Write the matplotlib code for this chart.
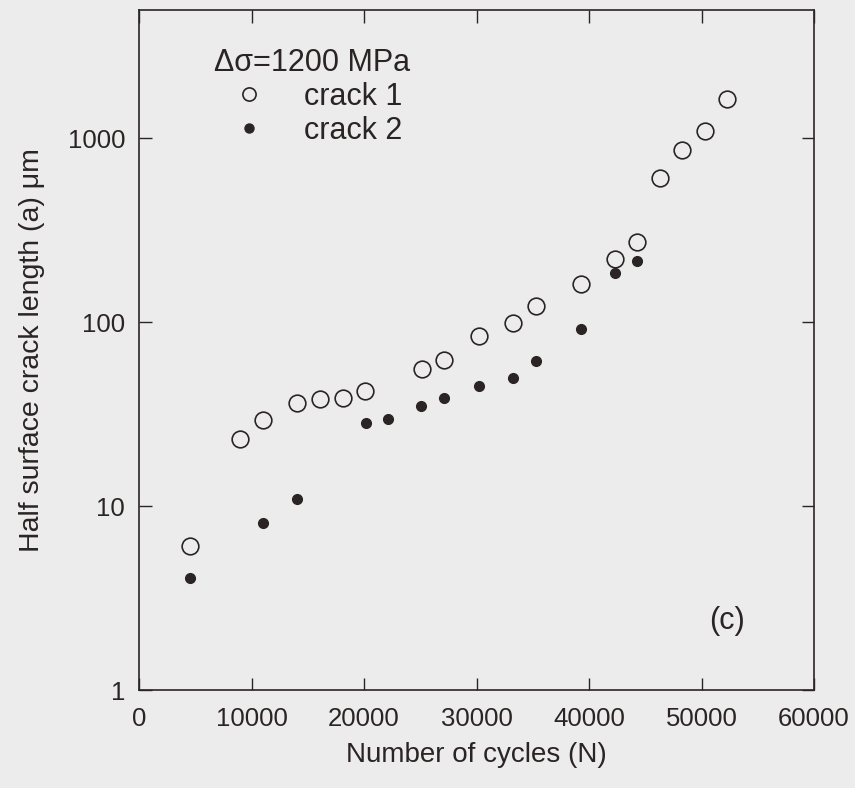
import numpy as np
import matplotlib
matplotlib.use("Agg")
import matplotlib.pyplot as plt
from matplotlib.ticker import FixedLocator, FuncFormatter

# crack 1 (open circles)
n_crack1 = [4500, 9000, 11000, 14050, 16050, 18100, 20100, 25150, 27150, 30250,
            33250, 35250, 39300, 42300, 44300, 46300, 48300, 50300, 52300]
a_crack1 = [6.1, 23.3, 29.4, 36.5, 38.3, 39.0, 42.2, 55.7, 62.4, 83.9,
            99.1, 122, 161, 222, 275, 608, 871, 1105, 1636]

# crack 2 (filled dots)
n_crack2 = [4500, 11050, 14050, 20150, 22100, 25100, 27150, 30250, 33250,
            35250, 39250, 42300, 44300]
a_crack2 = [4.06, 8.05, 11.0, 28.4, 29.8, 34.9, 39.0, 45.1, 49.8,
            61.4, 91.6, 186, 216]

x_ticks = [0, 10000, 20000, 30000, 40000, 50000, 60000]
y_ticks = [1, 10, 100, 1000]

ink = "#2b2424"
bg = "#ececec"

plt.rcParams['font.family'] = ['Liberation Sans', 'DejaVu Sans']
plt.rcParams['text.color'] = ink
plt.rcParams['axes.labelcolor'] = ink
plt.rcParams['xtick.color'] = ink
plt.rcParams['ytick.color'] = ink

fig = plt.figure(figsize=(8.55, 7.88), dpi=100, facecolor=bg)
ax = fig.add_axes([139 / 855, 98 / 788, 675 / 855, 680 / 788])
ax.set_facecolor(bg)

ax.plot(n_crack1, a_crack1, linestyle='none', marker='o', markersize=12,
        markerfacecolor='none', markeredgecolor=ink, markeredgewidth=1.2,
        label='crack 1')
ax.plot(n_crack2, a_crack2, linestyle='none', marker='o', markersize=7,
        markerfacecolor=ink, markeredgecolor=ink, label='crack 2')

ax.set_yscale('log')
ax.set_xlim(0, 60000)
ax.set_ylim(1, 5000)
ax.xaxis.set_major_locator(FixedLocator(x_ticks))
ax.yaxis.set_major_locator(FixedLocator(y_ticks))
ax.yaxis.set_minor_locator(FixedLocator([]))
ax.yaxis.set_major_formatter(FuncFormatter(lambda v, p: '%d' % v))
ax.tick_params(axis='both', which='major', direction='in', length=9, width=1,
               top=True, right=True, labelsize=18.5)
ax.tick_params(axis='x', pad=12)
ax.tick_params(axis='y', pad=10)

for s in ax.spines.values():
    s.set_color(ink)
    s.set_linewidth(1.2)

ax.set_xlabel('Number of cycles (N)', fontsize=20, labelpad=8)
ax.set_ylabel('Half surface crack length (a) \u03bcm', fontsize=20.5, labelpad=16)

leg = ax.legend(loc='upper left', bbox_to_anchor=(0.111, 0.944), frameon=False,
                title='\u0394\u03c3=1200 MPa', title_fontsize=22, fontsize=22,
                borderpad=0, borderaxespad=0, handlelength=2.29,
                handletextpad=0.65, labelspacing=0.13)
leg._legend_box.align = 'left'
leg.legend_handles[0].set_markersize(9.5)
leg.legend_handles[1].set_markersize(6.5)

ax.text(0.871, 0.101, '(c)', transform=ax.transAxes, fontsize=22,
        ha='center', va='center')

fig.savefig('out.png', dpi=100, facecolor=bg)
